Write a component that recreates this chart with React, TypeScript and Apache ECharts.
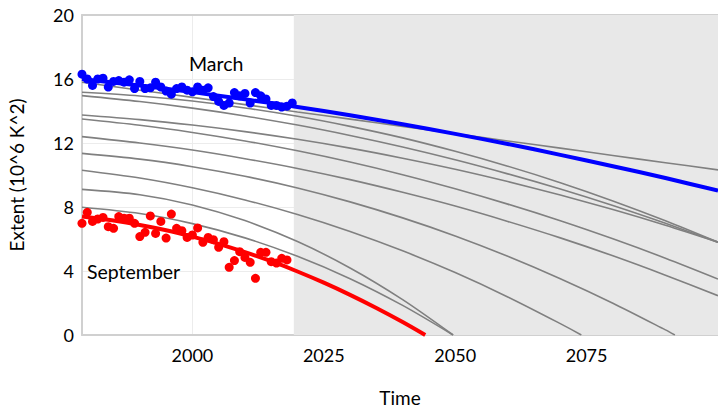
import React, { useEffect, useRef } from "react";
import * as echarts from "echarts";

// ---------- data ----------
const FIRST_YEAR = 1979;
const X_MIN = 1979;
const X_MAX = 2100;
const X_TICKS = [2000, 2025, 2050, 2075];
const Y_MAX = 20;
const Y_INTERVAL = 4;
const SHADE_START = 2019.3;

const marchObs = [
  16.3, 16.0, 15.6, 16.0, 16.05, 15.5, 15.85, 15.9, 15.8, 15.95,
  15.4, 15.85, 15.4, 15.45, 15.8, 15.5, 15.25, 15.05, 15.4, 15.5,
  15.3, 15.2, 15.5, 15.3, 15.45, 14.9, 14.6, 14.35, 14.5, 15.15,
  14.95, 15.1, 14.5, 15.15, 14.95, 14.75, 14.35, 14.35, 14.25, 14.3,
  14.5,
];

const septemberObs = [
  6.98, 7.67, 7.1, 7.25, 7.35, 6.77, 6.67, 7.4, 7.3, 7.3,
  6.98, 6.15, 6.42, 7.44, 6.35, 7.1, 6.06, 7.56, 6.67, 6.52,
  6.1, 6.25, 6.69, 5.79, 6.1, 5.96, 5.48, 5.83, 4.23, 4.65,
  5.21, 4.85, 4.54, 3.54, 5.17, 5.17, 4.58, 4.5, 4.79, 4.69,
];

// sample years for the fitted / projected curves
const CURVE_YEARS = [1979, 1990, 2000, 2010, 2020, 2030, 2040, 2050, 2060, 2070, 2080, 2090, 2100];

const marchFit = [16.0, 15.59, 15.18, 14.73, 14.25, 13.73, 13.17, 12.57, 11.94, 11.26, 10.55, 9.81, 9.02];

const septemberFitYears = [1979, 1985, 1990, 1995, 2000, 2005, 2010, 2015, 2020, 2025, 2030, 2035, 2040, 2044.3];
const septemberFit = [7.4, 7.15, 6.88, 6.55, 6.15, 5.7, 5.18, 4.61, 3.97, 3.27, 2.51, 1.69, 0.81, 0];

// grey projection curves (values at CURVE_YEARS; the last ones end where they reach 0)
const projA = [15.8, 15.3, 14.85, 14.4, 13.94, 13.49, 13.04, 12.58, 12.13, 11.68, 11.22, 10.77, 10.32];
const projB = [15.17, 14.94, 14.62, 14.19, 13.67, 13.04, 12.32, 11.48, 10.55, 9.52, 8.38, 7.14, 5.8];
const projC = [14.96, 14.59, 14.18, 13.69, 13.12, 12.47, 11.75, 10.95, 10.07, 9.12, 8.09, 6.98, 5.8];
const projD = [13.75, 13.46, 13.12, 12.71, 12.23, 11.68, 11.05, 10.36, 9.59, 8.75, 7.84, 6.86, 5.8];
const projE = [13.5, 13.11, 12.66, 12.13, 11.51, 10.81, 10.02, 9.14, 8.18, 7.14, 6.01, 4.8, 3.5];
const projF = [12.4, 12.0, 11.56, 11.02, 10.41, 9.71, 8.92, 8.06, 7.1, 6.07, 4.95, 3.74, 2.46];
const projG = [11.35, 10.99, 10.52, 9.92, 9.19, 8.32, 7.32, 6.19, 4.92, 3.52, 1.99, 0.32];
const projGZero = 2091.8;
const projH = [10.3, 9.81, 9.2, 8.44, 7.53, 6.47, 5.26, 3.9, 2.38, 0.71];
const projHZero = 2074;
const projI = [9.1, 8.77, 8.13, 7.15, 5.84, 4.19, 2.21];
const projIZero = 2049.6;
const projJ = [7.98, 7.59, 6.96, 6.07, 4.92, 3.52, 1.85];
const projJZero = 2049.6;

const projections: { values: number[]; zeroYear?: number }[] = [
  { values: projA },
  { values: projB },
  { values: projC },
  { values: projD },
  { values: projE },
  { values: projF },
  { values: projG, zeroYear: projGZero },
  { values: projH, zeroYear: projHZero },
  { values: projI, zeroYear: projIZero },
  { values: projJ, zeroYear: projJZero },
];

const FONT = "Lato";

export default function App() {
  const ref = useRef<HTMLDivElement>(null);

  useEffect(() => {
    document.body.style.margin = "0";
    if (!ref.current) return;
    const chart = echarts.init(ref.current, undefined, { renderer: "svg" });

    const marchPts = marchObs.map((v, i) => [FIRST_YEAR + i, v]);
    const septPts = septemberObs.map((v, i) => [FIRST_YEAR + i, v]);
    const toPairs = (years: number[], vals: number[]) => vals.map((v, i) => [years[i], v]);

    const grayLines = projections.map((p) => {
      const pts = toPairs(CURVE_YEARS, p.values);
      if (p.zeroYear !== undefined) pts.push([p.zeroYear, 0]);
      return {
        type: "line",
        data: pts,
        smooth: 0.3,
        showSymbol: false,
        silent: true,
        z: 3,
        lineStyle: { color: "#808080", width: 1.6 },
      };
    });

    chart.setOption({
      animation: false,
      textStyle: { fontFamily: FONT },
      grid: { left: 82, right: 0, top: 15, bottom: 75, outerBoundsMode: "none", containLabel: false },
      xAxis: [
        {
          type: "value",
          min: X_MIN,
          max: X_MAX,
          name: "Time",
          nameLocation: "middle",
          nameGap: 53,
          nameTextStyle: { fontSize: 19, color: "#000", fontFamily: FONT },
          axisLine: { show: true, lineStyle: { color: "#d0d0d0", width: 2 } },
          axisTick: { show: false, customValues: X_TICKS },
          axisLabel: {
            customValues: X_TICKS,
            formatter: (v: number) => String(v),
            fontSize: 18,
            color: "#000",
            fontFamily: FONT,
            margin: 11,
          },
          splitLine: { show: true, lineStyle: { color: "#ececec", width: 1 } },
        },
        {
          type: "value",
          position: "top",
          min: X_MIN,
          max: X_MAX,
          axisLine: { show: true, onZero: false, lineStyle: { color: "#d0d0d0", width: 2 } },
          axisTick: { show: false },
          axisLabel: { show: false },
          splitLine: { show: false },
        },
      ],
      yAxis: {
        type: "value",
        min: 0,
        max: Y_MAX,
        interval: Y_INTERVAL,
        name: "Extent (10^6 K^2)",
        nameLocation: "middle",
        nameGap: 56,
        nameTextStyle: { fontSize: 19, color: "#000", fontFamily: FONT },
        axisLine: { show: true, lineStyle: { color: "#d0d0d0", width: 2 } },
        axisTick: { show: false },
        axisLabel: { fontSize: 18, color: "#000", fontFamily: FONT, margin: 8 },
        splitLine: { show: true, lineStyle: { color: "#ececec", width: 1 } },
      },
      series: [
        {
          type: "line",
          data: [],
          silent: true,
          z: 1,
          markArea: {
            silent: true,
            itemStyle: { color: "#e8e8e8" },
            data: [[{ xAxis: SHADE_START }, { xAxis: X_MAX }]],
          },
        },
        ...grayLines,
        {
          type: "line",
          name: "March fit",
          data: toPairs(CURVE_YEARS, marchFit),
          smooth: 0.3,
          showSymbol: false,
          z: 5,
          lineStyle: { color: "#0000ff", width: 4 },
        },
        {
          type: "line",
          name: "September fit",
          data: toPairs(septemberFitYears, septemberFit),
          smooth: 0.3,
          showSymbol: false,
          z: 5,
          lineStyle: { color: "#ff0000", width: 4 },
        },
        {
          type: "scatter",
          name: "March",
          data: marchPts,
          symbolSize: 9,
          z: 6,
          itemStyle: { color: "#0000ff", opacity: 1 },
        },
        {
          type: "scatter",
          name: "September",
          data: septPts,
          symbolSize: 9,
          z: 6,
          itemStyle: { color: "#ff0000", opacity: 1 },
        },
      ],
      graphic: [
        {
          type: "text",
          x: 189,
          y: 63,
          style: { text: "March", fontSize: 19.5, fontFamily: FONT, fill: "#000", verticalAlign: "middle" },
          z: 10,
        },
        {
          type: "text",
          x: 87,
          y: 271,
          style: { text: "September", fontSize: 19.5, fontFamily: FONT, fill: "#000", verticalAlign: "middle" },
          z: 10,
        },
      ],
    });

    return () => chart.dispose();
  }, []);

  return <div ref={ref} style={{ width: 718, height: 410 }} />;
}
